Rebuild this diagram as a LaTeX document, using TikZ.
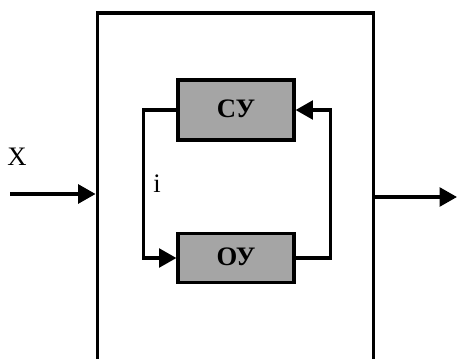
\documentclass[tikz,border=0pt]{standalone}
\usepackage{fontspec}
\setmainfont{Liberation Serif}
\usetikzlibrary{arrows.meta,positioning}
\definecolor{cBlock}{RGB}{165,165,165}
\tikzset{
	outerbox/.style={draw=black, line width=2.9pt, fill=white,
		minimum width=207pt, minimum height=290pt, inner sep=0pt},
	blockbox/.style={draw=black, line width=2.4pt, fill=cBlock,
		minimum width=87pt, minimum height=45pt, inner sep=0pt,
		font=\fontsize{20}{24}\selectfont\bfseries},
	sarr/.style={-{Triangle[length=13pt,width=14pt]}, line width=2.5pt},
	lbl/.style={font=\fontsize{20}{24}\selectfont, inner sep=0pt},
}

\begin{document}
\begin{tikzpicture}[x=0.75pt, y=-0.75pt]
			\useasboundingbox (0,0) rectangle (457,358);
			\clip (0,0) rectangle (457,358);
			\node[outerbox] (sys) at (235.5,206) {};
			\node[blockbox, text depth=2pt] (cu) at (236,110) {СУ};
			\node[blockbox, minimum height=37pt, text depth=2pt] (ou) at (236,258) {ОУ};
			\coordinate (xin) at (10,194);
			\coordinate (yout) at (457,197);
			\node[lbl] (xlbl) at (17,157) {X};
			\node[lbl] (ilbl) at (157,184) {i};
			\draw[sarr] (xin) -- (xin -| sys.west);
			\draw[sarr] (yout -| sys.east) -- (yout);
			\draw[sarr] (cu.west) -- ++(-33,0) |- (ou.west);
			\draw[sarr] (ou.east) -- ++(35,0) |- (cu.east);
		\end{tikzpicture}
\end{document}
